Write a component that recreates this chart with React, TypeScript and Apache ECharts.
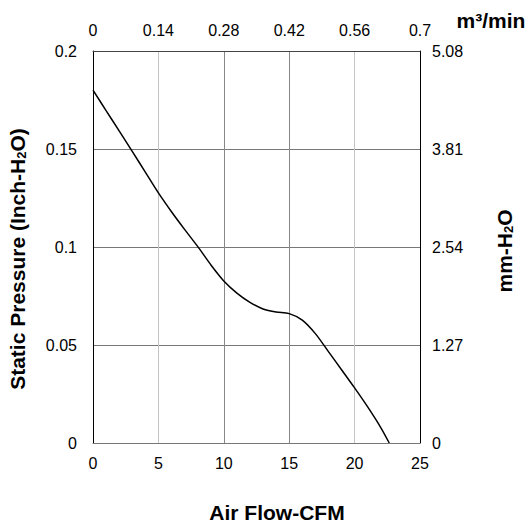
import React, { useEffect, useRef } from "react";
import * as echarts from "echarts";

const flowCFM = [0, 1, 2, 3, 4, 5, 6, 7, 8, 9, 10, 11, 12, 13, 14, 15, 16, 17, 18, 19, 20, 21, 22, 22.65];
const pressureInH2O = [0.18, 0.1696, 0.1592, 0.1488, 0.1382, 0.1276, 0.118, 0.109, 0.1003, 0.091, 0.0827, 0.0765, 0.0718, 0.0684, 0.0668, 0.066, 0.0627, 0.0558, 0.0466, 0.0374, 0.0281, 0.0184, 0.0079, 0];
const bottomTicks = ["0", "5", "10", "15", "20", "25"];
const topTicks = ["0", "0.14", "0.28", "0.42", "0.56", "0.7"];
const leftTicks = ["0", "0.05", "0.1", "0.15", "0.2"];
const rightTicks = ["0", "1.27", "2.54", "3.81", "5.08"];

const FONT = "Liberation Sans, Arial, sans-serif";

export default function App() {
  const ref = useRef<HTMLDivElement>(null);
  useEffect(() => {
    if (!ref.current) return;
    const chart = echarts.init(ref.current, undefined, { renderer: "svg" });
    const labelStyle = { color: "#000", fontSize: 16, fontFamily: FONT };
    const data = flowCFM.map((x, i) => [x, pressureInH2O[i]]);
    const sub = { font: `bold 13px ${FONT}`, fill: "#000", verticalAlign: "bottom", lineHeight: 14, padding: [8, 0, 0, 0] };
    chart.setOption({
      animation: false,
      backgroundColor: "#fff",
      grid: { left: 93, top: 51, width: 327, height: 392, containLabel: false },
      xAxis: [
        {
          type: "value", position: "bottom", min: 0, max: 25, interval: 5,
          axisLine: { show: true, onZero: false, lineStyle: { color: "#777", width: 1 } },
          axisTick: { show: false },
          axisLabel: { ...labelStyle, margin: 12, formatter: (v: number) => bottomTicks[Math.round(v / 5)] ?? "" },
          splitLine: { show: true, lineStyle: { color: ["#888", "#c4c4c4", "#888", "#888", "#c4c4c4", "#888"], width: 1 } },
        },
        {
          type: "value", position: "top", min: 0, max: 25, interval: 5,
          axisLine: { show: true, onZero: false, lineStyle: { color: "#444", width: 1 } },
          axisTick: { show: false },
          axisLabel: { ...labelStyle, margin: 13, formatter: (v: number) => topTicks[Math.round(v / 5)] ?? "" },
          splitLine: { show: false },
        },
      ],
      yAxis: [
        {
          type: "value", position: "left", min: 0, max: 0.2, interval: 0.05,
          axisLine: { show: true, onZero: false, lineStyle: { color: "#000", width: 1 } },
          axisTick: { show: false },
          axisLabel: { ...labelStyle, margin: 16, formatter: (v: number) => leftTicks[Math.round(v / 0.05)] ?? "" },
          splitLine: { show: true, lineStyle: { color: "#777", width: 1 } },
        },
        {
          type: "value", position: "right", min: 0, max: 0.2, interval: 0.05,
          axisLine: { show: true, onZero: false, lineStyle: { color: "#000", width: 1 } },
          axisTick: { show: false },
          axisLabel: { ...labelStyle, margin: 12, formatter: (v: number) => rightTicks[Math.round(v / 0.05)] ?? "" },
          splitLine: { show: false },
        },
      ],
      series: [
        {
          type: "line", xAxisIndex: 0, yAxisIndex: 0, data, smooth: 0.3, symbol: "none",
          lineStyle: { color: "#000", width: 1.5 },
        },
      ],
      graphic: [
        {
          type: "text", x: 277, y: 512,
          style: { text: "Air Flow-CFM", font: `bold 21px ${FONT}`, fill: "#000", align: "center", verticalAlign: "middle" },
        },
        {
          type: "text", x: 491, y: 20,
          style: { text: "m³/min", font: `bold 21px ${FONT}`, fill: "#000", align: "center", verticalAlign: "middle" },
        },
        {
          type: "text", x: 17, y: 259, rotation: Math.PI / 2,
          style: {
            text: "Static Pressure (Inch-H{sub|2}O)", font: `bold 21px ${FONT}`, fill: "#000",
            align: "center", verticalAlign: "middle", lineHeight: 22, rich: { sub },
          },
        },
        {
          type: "text", x: 504, y: 251, rotation: Math.PI / 2,
          style: {
            text: "mm-H{sub|2}O", font: `bold 21px ${FONT}`, fill: "#000",
            align: "center", verticalAlign: "middle", lineHeight: 22, rich: { sub },
          },
        },
      ],
    });
    return () => chart.dispose();
  }, []);
  return <div ref={ref} style={{ position: "absolute", left: 0, top: 0, width: 529, height: 525 }} />;
}
